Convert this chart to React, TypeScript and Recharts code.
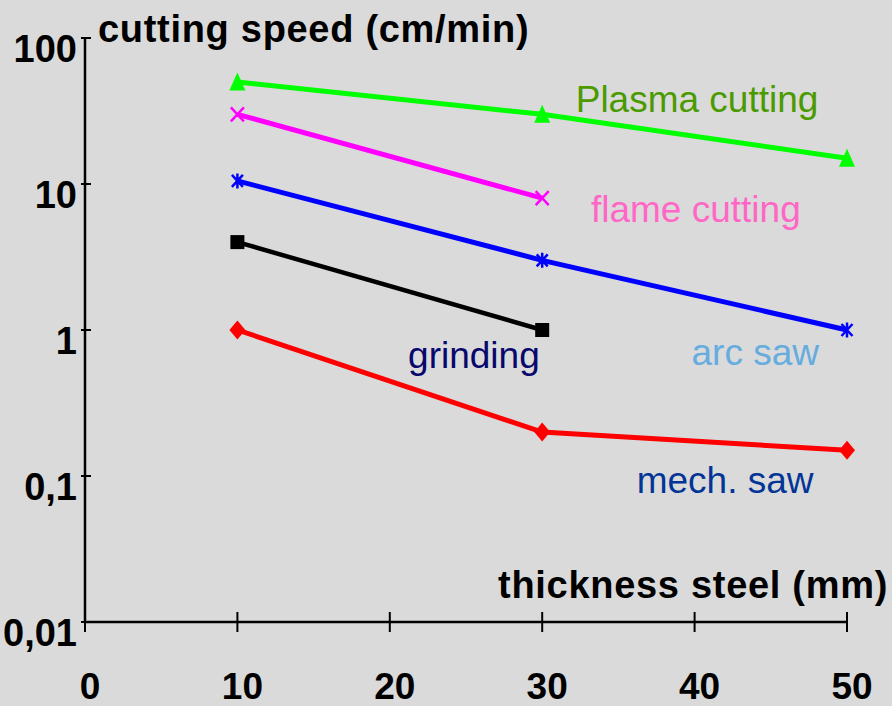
import { LineChart, Line, XAxis, YAxis, ReferenceDot, Label } from "recharts";

// thickness of steel (mm)
const thickness = [10, 30, 50];
// cutting speed (cm/min) per method, null where the method has no reading
const plasmaCutting = [50, 30, 15];
const flameCutting = [30, 8, null];
const arcSaw = [10.5, 3, 1];
const grinding = [4, 1, null];
const mechSaw = [1, 0.2, 0.15];

const xTicks = [0, 10, 20, 30, 40, 50];
const yTicks = [0.01, 0.1, 1, 10, 100];
const yTickLabels = ["0,01", "0,1", "1", "10", "100"];

const annotations = [
  { text: "Plasma cutting", x: 32.2, y: 31, color: "#4a9a00" },
  { text: "flame cutting", x: 33.2, y: 5.5, color: "#ff66c6" },
  { text: "arc saw", x: 39.8, y: 0.575, color: "#66acdf" },
  { text: "grinding", x: 21.2, y: 0.55, color: "#07076e" },
  { text: "mech. saw", x: 36.2, y: 0.0766, color: "#033596" },
];

const data = thickness.map((x, i) => ({
  x,
  plasma: plasmaCutting[i],
  flame: flameCutting[i],
  arc: arcSaw[i],
  grinding: grinding[i],
  mech: mechSaw[i],
}));

const FONT = "'Liberation Sans', Arial, Helvetica, sans-serif";
const BG = "#dadada";

type Shape = "triangle" | "cross" | "asterisk" | "square" | "diamond";

function marker(shape: Shape, color: string) {
  return (p: any) => {
    const { cx, cy, key, index } = p;
    const k = key ?? `m-${shape}-${index}`;
    if (cx == null || cy == null || p.value == null) return <g key={k} />;
    switch (shape) {
      case "triangle":
        return <polygon key={k} points={`${cx},${cy - 9.5} ${cx + 8},${cy + 8.5} ${cx - 8},${cy + 8.5}`} fill={color} />;
      case "cross":
        return (
          <path key={k} d={`M${cx - 6.5},${cy - 7}L${cx + 6.5},${cy + 7}M${cx - 6.5},${cy + 7}L${cx + 6.5},${cy - 7}`}
            stroke={color} strokeWidth={2.5} fill="none" />
        );
      case "asterisk":
        return (
          <path key={k}
            d={`M${cx - 5.5},${cy - 6}L${cx + 5.5},${cy + 6}M${cx - 5.5},${cy + 6}L${cx + 5.5},${cy - 6}M${cx},${cy - 7.5}L${cx},${cy + 7.5}`}
            stroke={color} strokeWidth={2.5} fill="none" />
        );
      case "square":
        return <rect key={k} x={cx - 7} y={cy - 7} width={14} height={14} fill={color} />;
      case "diamond":
        return <polygon key={k} points={`${cx},${cy - 9.5} ${cx + 8},${cy} ${cx},${cy + 9.5} ${cx - 8},${cy}`} fill={color} />;
    }
  };
}

const XTick = (props: any) => {
  const { x, y, payload } = props;
  return (
    <g>
      <line x1={x} x2={x} y1={y - 10} y2={y + 10} stroke="#000" strokeWidth={2} />
      <text x={x + 5} y={y + 77} textAnchor="middle" fontFamily={FONT} fontWeight="bold" fontSize={37} fill="#000">
        {payload.value}
      </text>
    </g>
  );
};

const YTick = (props: any) => {
  const { x, y, payload } = props;
  const i = yTicks.indexOf(payload.value);
  return (
    <g>
      <line x1={x - 4} x2={x + 6} y1={y} y2={y} stroke="#000" strokeWidth={2} />
      <text x={x - 8} y={y + 24} textAnchor="end" fontFamily={FONT} fontWeight="bold" fontSize={38} fill="#000">
        {yTickLabels[i]}
      </text>
    </g>
  );
};

export default function App() {
  return (
    <div style={{ position: "absolute", left: 0, top: 0, width: 892, height: 706, background: BG }}>
      <LineChart width={892} height={706} data={data} margin={{ top: 38, right: 45, bottom: 0, left: 0 }}>
        <XAxis
          dataKey="x"
          type="number"
          domain={[0, 50]}
          ticks={xTicks}
          height={84}
          tickSize={0}
          tickMargin={0}
          tickLine={false}
          axisLine={{ stroke: "#000", strokeWidth: 2.5 }}
          tick={<XTick />}
          interval={0}
        >
          <Label
            content={(p: any) => (
              <text x={p.viewBox.x + p.viewBox.width + 41} y={p.viewBox.y - 24} textAnchor="end"
                fontFamily={FONT} fontWeight="bold" fontSize={38} letterSpacing={0.7} fill="#000">
                thickness steel (mm)
              </text>
            )}
          />
        </XAxis>
        <YAxis
          type="number"
          scale="log"
          domain={[0.01, 100]}
          ticks={yTicks}
          allowDataOverflow
          width={85}
          tickSize={0}
          tickMargin={0}
          tickLine={false}
          axisLine={{ stroke: "#000", strokeWidth: 2.5 }}
          tick={<YTick />}
          interval={0}
        >
          <Label
            content={(p: any) => (
              <text x={p.viewBox.x + p.viewBox.width + 13} y={p.viewBox.y + 4}
                fontFamily={FONT} fontWeight="bold" fontSize={38} letterSpacing={0.7} fill="#000">
                cutting speed (cm/min)
              </text>
            )}
          />
        </YAxis>

        <Line dataKey="mech" stroke="#ff0000" strokeWidth={5} dot={marker("diamond", "#ff0000")} isAnimationActive={false} />
        <Line dataKey="grinding" stroke="#000000" strokeWidth={4.5} dot={marker("square", "#000000")} isAnimationActive={false} />
        <Line dataKey="arc" stroke="#0000ff" strokeWidth={5} dot={marker("asterisk", "#0000ff")} isAnimationActive={false} />
        <Line dataKey="flame" stroke="#ff00ff" strokeWidth={5} dot={marker("cross", "#ff00ff")} isAnimationActive={false} />
        <Line dataKey="plasma" stroke="#00ff00" strokeWidth={5} dot={marker("triangle", "#00ff00")} isAnimationActive={false} />

        {annotations.map((a) => (
          <ReferenceDot
            key={a.text}
            x={a.x}
            y={a.y}
            r={0}
            shape={(p: any) => (
              <text x={p.cx} y={p.cy} fontFamily={FONT} fontSize={37} fill={a.color}>
                {a.text}
              </text>
            )}
          />
        ))}
      </LineChart>
    </div>
  );
}
